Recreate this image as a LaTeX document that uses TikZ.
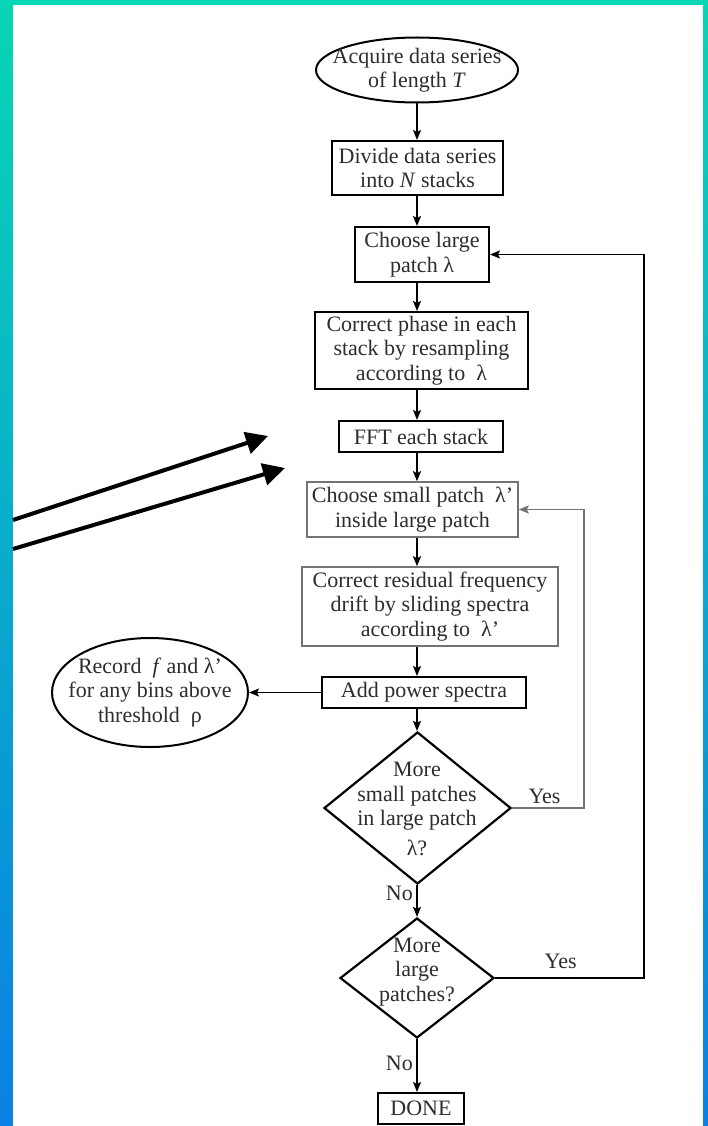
\documentclass[tikz,border=0pt]{standalone}
\usepackage{fontspec}
\setmainfont{Liberation Serif}
\usetikzlibrary{arrows.meta,shapes.geometric,positioning}
\definecolor{rimtop}{RGB}{8,214,180}
\definecolor{rimmid}{RGB}{28,198,226}
\definecolor{rimbot}{RGB}{10,128,228}
\definecolor{ink}{RGB}{45,45,45}

\begin{document}
\begin{tikzpicture}[x=1pt,y=-1pt,>={Stealth[length=10pt,width=8pt,inset=2pt]},
		line width=1.8pt,
		every node/.style={font=\fontsize{22}{24.5}\selectfont,text=ink},
		stepbox/.style={rectangle,draw,line width=2pt,inner sep=1pt,align=center},
		softbox/.style={stepbox,draw=black!55,line width=1.6pt},
		startnode/.style={ellipse,draw,line width=2pt,inner sep=0pt},
		decision/.style={diamond,draw,line width=2.2pt,inner sep=0pt},
		caption/.style={align=center,inner sep=0pt},
		bigarrow/.style={line width=4pt,-{Triangle[length=22pt,width=22pt]}}]
		% frame
		\shade[top color=rimtop,middle color=rimmid,bottom color=rimbot] (0,0) rectangle (708,1126);
		\fill[white] (13,5) rectangle (703,1126);
		\coordinate (col) at (417,0);
		% main column
		\node[startnode,minimum width=202pt,minimum height=65pt] (acquire) at (417,70) {};
		\node[caption] (acquiretxt) at (acquire) {Acquire data series\\of length \textit{T}};
		\node[stepbox,minimum width=171pt,minimum height=54pt] (divide) at (417.5,168) {Divide data series\\into \textit{N} stacks};
		\node[stepbox,minimum width=134pt,minimum height=55pt] (large) at (422,254.5) {Choose large\\patch λ};
		\node[stepbox,minimum width=213pt,minimum height=77pt] (phase) at (421.5,350.5) {Correct phase in each\\stack by resampling\\according to~~λ};
		\node[stepbox,minimum width=164pt,minimum height=31pt] (fft) at (421,436.5) {FFT each stack};
		\node[softbox,minimum width=211pt,minimum height=55pt] (small) at (412.5,509.5) {Choose small patch~~λ'\\inside large patch};
		\node[softbox,minimum width=256pt,minimum height=79pt] (drift) at (430,606.5) {Correct residual frequency\\drift by sliding spectra\\according to~~λ'};
		\node[stepbox,minimum width=204pt,minimum height=31pt] (add) at (424,692.5) {Add power spectra};
		\node[startnode,minimum width=196pt,minimum height=109pt] (record) at (150,692.5) {};
		\node[caption] (recordtxt) at (record) {Record~~\textit{f}~and λ'\\for any bins above\\threshold~~ρ};
		\node[decision,minimum width=187pt,minimum height=152pt] (moresmall) at (417.5,808) {};
		\node[caption] (moresmalltxt) at (417,809) {More\\small patches\\in large patch\\[5pt]λ?};
		\node[decision,minimum width=154pt,minimum height=120pt] (morelarge) at (417,978) {};
		\node[caption] (morelargetxt) at (417,972) {More\\large\\patches?};
		\node[stepbox,minimum width=86pt,minimum height=31pt] (done) at (421,1108.5) {DONE};
		% connectors
		\foreach \a/\b in {acquire/divide,divide/large,large/phase,phase/fft,fft/small,small/drift,drift/add,add/moresmall}
		\draw[->] (col |- \a.south) -- (col |- \b.north);
		\draw[->] (col |- moresmall.south) -- node[left,pos=0.26] (nosmall) {No} (col |- morelarge.north);
		\draw[->] (col |- morelarge.south) -- node[left,pos=0.45] (nolarge) {No} (col |- done.north);
		\draw[->] (add.west) -- (record.east);
		\draw[->,draw=black!55,line width=1.6pt] (moresmall.east) -- node[above,pos=0.45] (yessmall) {Yes} ++(72,0) |- (small.east);
		\draw[->] (morelarge.east) -- node[above=5pt,pos=0.44] (yeslarge) {Yes} ++(149,0) |- (large.east);
		% pointers from the left
		\coordinate (tailA) at (13,520);
		\coordinate (tipA) at (268,436);
		\coordinate (tailB) at (13,549);
		\coordinate (tipB) at (285,468);
		\draw[bigarrow] (tailA) -- (tipA);
		\draw[bigarrow] (tailB) -- (tipB);
\end{tikzpicture}
\end{document}
